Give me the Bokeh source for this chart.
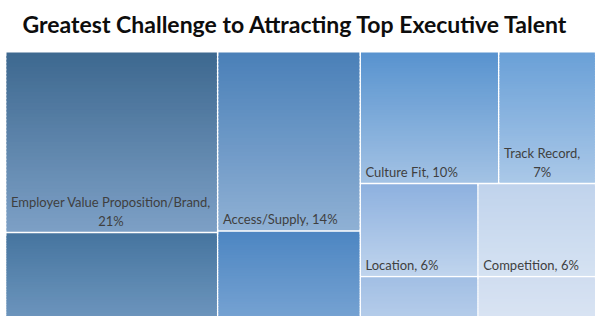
from bokeh.plotting import figure
from bokeh.models import Range1d
from bokeh.core.properties import value
from bokeh.embed import file_html
from bokeh.resources import INLINE

# ---- data ----
title = "Greatest Challenge to Attracting Top Executive Talent"
categories = ["Employer Value Proposition/Brand", "", "Access/Supply", "",
              "Culture Fit", "Track Record", "Location", "Competition", "", ""]
values = [21, 15, 14, 10.2, 10, 7, 6, 6, 5.5, 5.5]
# treemap grouping (column, row within column)
col_of = [0, 0, 1, 1, 2, 2, 2, 2, 2, 2]
row_of = [0, 1, 0, 1, 0, 0, 1, 1, 2, 2]

# ---- style ----
top_colors = ["#3d688f", "#46759f", "#4a80b8", "#4d86c2", "#5893cf",
              "#6aa0d7", "#8eb1df", "#c0d3ec", "#a2bfe4", "#d0ddf0"]
bot_colors = ["#7da0c6", "#80a5cc", "#8fb0d4", "#8ab0da", "#a3c2e4",
              "#aac8e8", "#bfd4ed", "#d5e2f2", "#c8daf0", "#e2ebf6"]
X0, Y0, W, H = 6.0, 52.0, 590.0, 310.0
GAP = 1.6

def hex2rgb(h):
    h = h.lstrip("#")
    return [int(h[i:i + 2], 16) for i in (0, 2, 4)]

def mix(c1, c2, t):
    a, b = hex2rgb(c1), hex2rgb(c2)
    return "#%02x%02x%02x" % tuple(int(round(a[i] + (b[i] - a[i]) * t)) for i in range(3))

# ---- layout (slice columns, then rows, then items) ----
n = len(values)
total = sum(values)
rects = [None] * n
cx = X0
for c in sorted(set(col_of)):
    idx_c = [i for i in range(n) if col_of[i] == c]
    csum = sum(values[i] for i in idx_c)
    cw = W * csum / total
    ry = Y0
    for r in sorted(set(row_of[i] for i in idx_c)):
        idx_r = [i for i in idx_c if row_of[i] == r]
        rsum = sum(values[i] for i in idx_r)
        rh = H * rsum / csum
        ix = cx
        for i in idx_r:
            iw = cw * values[i] / rsum
            rects[i] = (ix, ix + iw, ry, ry + rh)
            ix += iw
        ry += rh
    cx += cw

p = figure(width=600, height=316, output_backend="svg", toolbar_location=None,
           x_range=Range1d(0, 600), y_range=Range1d(316, 0), min_border=0)
p.axis.visible = False
p.grid.visible = False
p.outline_line_color = None
p.background_fill_color = "white"
p.border_fill_color = "white"

# gradient bands (overlapping to avoid seams)
bl, br, bt, bb, bc = [], [], [], [], []
NB = 50
for i in range(n):
    x0, x1, y0, y1 = rects[i]
    x1 -= GAP
    y1 -= GAP
    for k in range(NB):
        t0 = y0 + (y1 - y0) * k / NB
        t1 = min(y1, y0 + (y1 - y0) * (k + 1) / NB + 2.0)
        bl.append(x0); br.append(x1); bt.append(t0); bb.append(t1)
        bc.append(mix(top_colors[i], bot_colors[i], (k + 0.5) / NB))
p.quad(left=bl, right=br, top=bt, bottom=bb, fill_color=bc, line_color=None)

# labels
tx, ty, tt = [], [], []
for i in range(n):
    if not categories[i]:
        continue
    x0, x1, y0, y1 = rects[i]
    lab = f"{categories[i]}, {values[i]:g}%"
    if len(lab) * 6.6 > (x1 - x0) - 10:
        lab = f"{categories[i]},\n{values[i]:g}%"
    tx.append(x0 + 4.5)
    ty.append(y1 - GAP - 3)
    tt.append(lab)
p.text(x=tx, y=ty, text=tt, text_font=value("Lato"), text_font_size="13px",
       text_color="#3f3f3f", anchor="bottom_left", text_align="center",
       text_line_height=1.15)

p.text(x=[295], y=[23], text=[title], text_font=value("Lato"), text_font_style="bold",
       text_font_size="23px", text_color="#0d0d0d", text_align="center",
       text_baseline="middle")

open("out.html", "w").write(file_html(p, INLINE))
